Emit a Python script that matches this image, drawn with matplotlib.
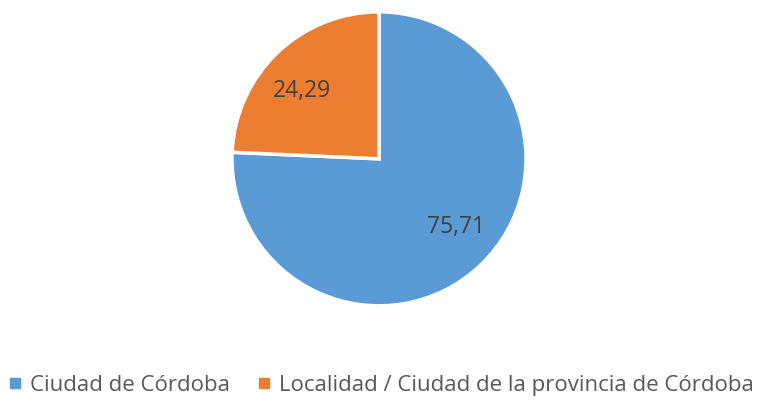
import matplotlib
matplotlib.use("Agg")
import numpy as np
import matplotlib.pyplot as plt
from matplotlib.lines import Line2D

categories = ["Ciudad de Córdoba", "Localidad / Ciudad de la provincia de Córdoba"]
values = [75.71, 24.29]
colors = ["#5B9BD5", "#ED7D31"]

plt.rcParams['font.family'] = ['Open Sans', 'DejaVu Sans']

fig = plt.figure(figsize=(7.66, 4.04), dpi=100)
ax = fig.add_axes([0.3029, 0.243, 0.3838, 0.7277])
wedges, texts, autotexts = ax.pie(
    values, colors=colors, startangle=90, counterclock=False,
    autopct=lambda p: f"{p:.2f}".replace('.', ','), pctdistance=0.7,
    wedgeprops=dict(edgecolor="white", linewidth=2.5),
    textprops=dict(color="#404040", fontsize=16.5))
# nudge labels slightly (as in the reference's label placement)
for w, t in zip(wedges, autotexts):
    ang = np.deg2rad((w.theta1 + w.theta2) / 2 + 5)
    t.set_position((0.7 * np.cos(ang), 0.7 * np.sin(ang)))
ax.set_xlim(-1, 1)
ax.set_ylim(-1, 1)
ax.set_aspect('equal')

handles = [Line2D([0], [0], marker='s', linestyle='none', markersize=7,
                  markerfacecolor=c, markeredgecolor=c) for c in colors]
fig.legend(handles, categories, loc='center', bbox_to_anchor=(0.497, 0.047),
           ncol=2, frameon=False, fontsize=16, labelcolor="#595959",
           handletextpad=0.3, columnspacing=1.2, handlelength=0.7)

fig.savefig("out.png", dpi=100)
